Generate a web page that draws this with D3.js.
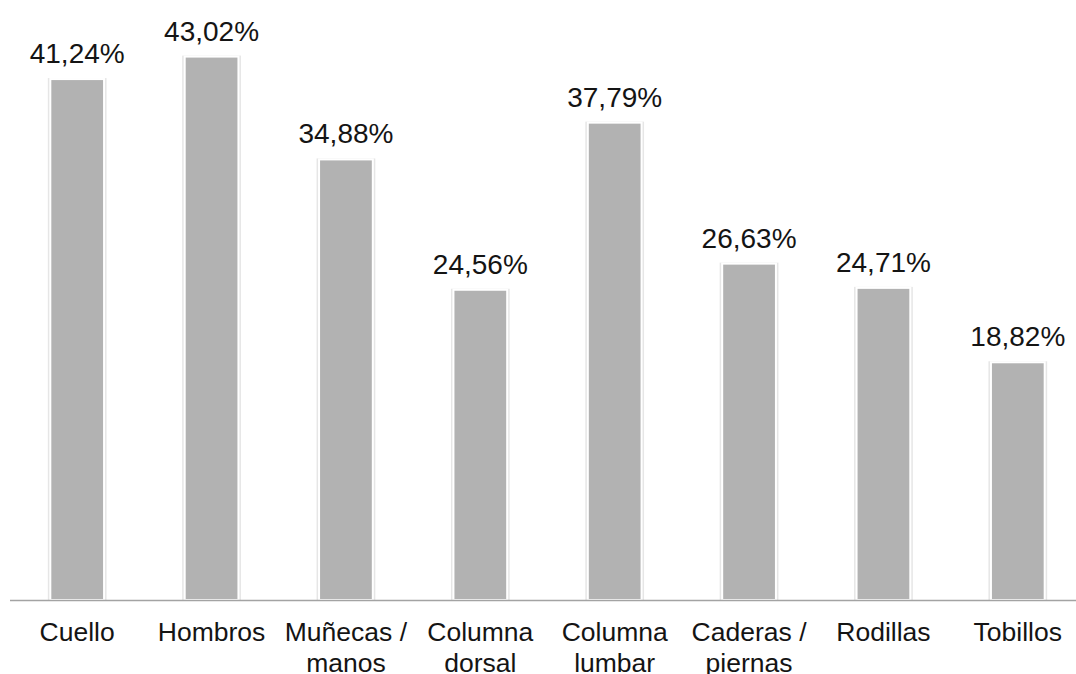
<!DOCTYPE html>
<html>
<head>
<meta charset="utf-8">
<script src="https://cdn.jsdelivr.net/npm/d3@7"></script>
<style>
  html, body { margin: 0; padding: 0; background: #fff; }
  text { font-family: "Liberation Sans", Arial, sans-serif; fill: #141414; }
</style>
</head>
<body>
<div id="chart"></div>
<script>
const categories = ["Cuello", "Hombros", "Muñecas /\nmanos", "Columna\ndorsal", "Columna\nlumbar", "Caderas /\npiernas", "Rodillas", "Tobillos"];
const values     = [41.24, 43.02, 34.88, 24.56, 37.79, 26.63, 24.71, 18.82];

const width  = 1076;
const height = 674;
const baseY  = 600;

const data = categories.map((c, i) => ({ cat: c, value: values[i] }));

const es = d3.formatLocale({ decimal: ",", thousands: ".", grouping: [3], currency: ["", "€"] });
const fmt = es.format(".2f");

const svg = d3.select("#chart")
  .append("svg")
  .attr("width", width)
  .attr("height", height);

const x = d3.scaleBand()
  .domain(categories)
  .range([10, 1085])
  .paddingInner(0.6)
  .paddingOuter(0.3);

const y = d3.scaleLinear()
  .domain([0, 47.5])
  .range([baseY, 0]);

// faint shadow behind bars
svg.append("g")
  .selectAll("rect")
  .data(data)
  .join("rect")
  .attr("x", d => x(d.cat) - 2.5)
  .attr("y", d => y(d.value) - 1)
  .attr("width", x.bandwidth() + 5)
  .attr("height", d => baseY - y(d.value) + 1)
  .attr("fill", "#e6e6e6");

// bars
svg.append("g")
  .selectAll("rect")
  .data(data)
  .join("rect")
  .attr("x", d => x(d.cat))
  .attr("y", d => y(d.value))
  .attr("width", x.bandwidth())
  .attr("height", d => baseY - y(d.value))
  .attr("fill", "#b2b2b2")
  .attr("stroke", "#ffffff")
  .attr("stroke-width", 2);

// value labels
svg.append("g")
  .selectAll("text")
  .data(data)
  .join("text")
  .attr("x", d => x(d.cat) + x.bandwidth() / 2)
  .attr("y", d => y(d.value) - 16)
  .attr("text-anchor", "middle")
  .style("font-size", "28px")
  .text(d => fmt(d.value) + "%");

// baseline axis
svg.append("line")
  .attr("x1", 10)
  .attr("x2", 1085)
  .attr("y1", baseY + 0.5)
  .attr("y2", baseY + 0.5)
  .attr("stroke", "#a3a3a3")
  .attr("stroke-width", 1.5);

// category labels
const labels = svg.append("g")
  .selectAll("text")
  .data(categories)
  .join("text")
  .attr("x", d => x(d) + x.bandwidth() / 2)
  .attr("y", 641)
  .attr("text-anchor", "middle")
  .style("font-size", "26.5px");

labels.selectAll("tspan")
  .data(d => d.split("\n"))
  .join("tspan")
  .attr("x", function () { return d3.select(this.parentNode).attr("x"); })
  .attr("dy", (d, i) => i === 0 ? 0 : 31)
  .text(d => d);
</script>
</body>
</html>
